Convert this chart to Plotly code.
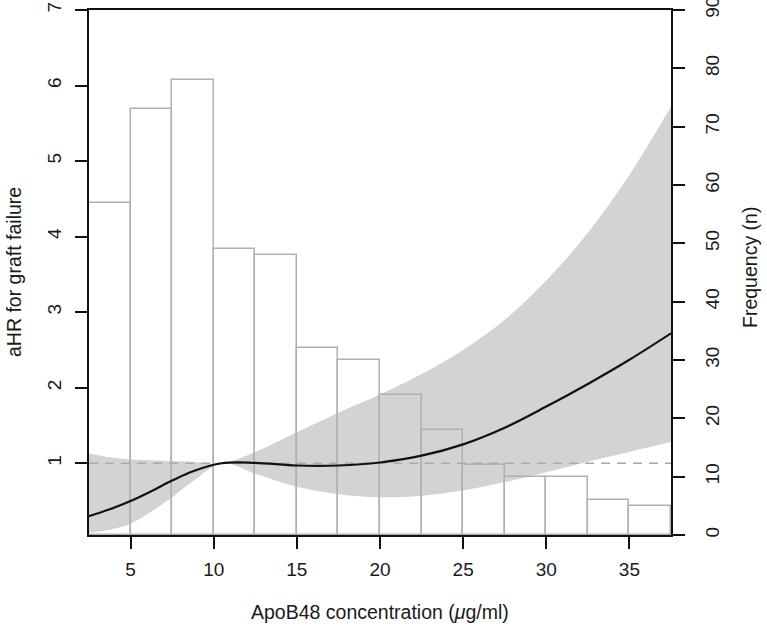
import plotly.graph_objects as go

# ---- data ----
apob_x = [2.5, 3.75, 5, 6.25, 7.5, 8.75, 10.5, 12.5, 15, 17.5, 20,
          22.5, 25, 27.5, 30, 32.5, 35, 37.5]
ahr = [0.30, 0.39, 0.50, 0.63, 0.77, 0.895, 1.00, 1.005, 0.97, 0.97, 1.01,
       1.10, 1.25, 1.47, 1.75, 2.05, 2.37, 2.72]
ahr_upper = [1.13, 1.08, 1.05, 1.04, 1.03, 1.02, 1.00, 1.15, 1.41, 1.67, 1.91,
             2.18, 2.50, 2.90, 3.42, 4.05, 4.82, 5.72]
ahr_lower = [0.08, 0.12, 0.20, 0.36, 0.55, 0.76, 1.00, 0.86, 0.69, 0.59, 0.55,
             0.57, 0.64, 0.75, 0.88, 1.02, 1.15, 1.28]

bin_width = 2.5
bin_left = [2.5, 5, 7.5, 10, 12.5, 15, 17.5, 20, 22.5, 25, 27.5, 30, 32.5, 35]
counts = [57, 73, 78, 49, 48, 32, 30, 24, 18, 12, 10, 10, 6, 5]

ref_hr = 1
x_range = [2.5, 37.5]
x_ticks = [5, 10, 15, 20, 25, 30, 35]
hr_range = [0.05, 7]
hr_ticks = [1, 2, 3, 4, 5, 6, 7]
freq_range = [0, 90]
freq_ticks = [0, 10, 20, 30, 40, 50, 60, 70, 80, 90]

FONT = "Liberation Sans, Arial, Helvetica, sans-serif"
TXT = "#1a1a1a"
FS_TICK = 19
FS_TITLE = 19.5

fig = go.Figure()

# confidence band (left scale)
fig.add_trace(go.Scatter(x=apob_x, y=ahr_lower, mode="lines",
                         line=dict(width=0, shape="spline", color="#d3d3d3"),
                         yaxis="y", showlegend=False, hoverinfo="skip"))
fig.add_trace(go.Scatter(x=apob_x, y=ahr_upper, mode="lines", fill="tonexty",
                         fillcolor="#d3d3d3",
                         line=dict(width=0, shape="spline", color="#d3d3d3"),
                         yaxis="y", showlegend=False, hoverinfo="skip"))

# histogram (right scale)
bin_centers = [b + bin_width / 2 for b in bin_left]
fig.add_trace(go.Bar(x=bin_centers, y=counts, width=bin_width,
                     marker=dict(color="rgba(0,0,0,0)",
                                 line=dict(color="#b0b0b0", width=1.5)),
                     yaxis="y2", showlegend=False))

# reference line and fitted curve (left scale, drawn on top)
fig.add_trace(go.Scatter(x=x_range, y=[ref_hr, ref_hr], mode="lines",
                         line=dict(color="#aaaaaa", width=1.6, dash="9px,7px"),
                         yaxis="y3", showlegend=False))
fig.add_trace(go.Scatter(x=apob_x, y=ahr, mode="lines",
                         line=dict(color="#111111", width=2.2, shape="spline"),
                         yaxis="y3", showlegend=False))

axis_common = dict(showline=True, linecolor="#111111", linewidth=1.5,
                   ticks="outside", ticklen=12, tickwidth=1.5, tickcolor="#111111",
                   showgrid=False, zeroline=False, automargin=False,
                   ticklabeloverflow="allow",
                   tickfont=dict(family=FONT, size=FS_TICK, color=TXT))

fig.update_layout(
    width=767, height=631,
    margin=dict(l=89, r=96, t=10, b=96, autoexpand=False),
    paper_bgcolor="white", plot_bgcolor="white",
    bargap=0,
    xaxis=dict(range=x_range, tickvals=x_ticks, mirror=True,
               ticklabelstandoff=4, **axis_common),
    yaxis=dict(range=hr_range, tickvals=hr_ticks, side="left", tickangle=-90,
               ticklabelstandoff=7, **axis_common),
    yaxis2=dict(range=freq_range, tickvals=freq_ticks, side="right",
                overlaying="y", tickangle=-90, ticklabelstandoff=11, **axis_common),
    yaxis3=dict(range=hr_range, overlaying="y", visible=False),
    annotations=[
        dict(text="ApoB48 concentration (<i>μ</i>g/ml)", xref="paper", yref="paper",
             x=0.5, y=(535 - 612) / 525, xanchor="center", yanchor="middle",
             showarrow=False, font=dict(family=FONT, size=FS_TITLE, color=TXT)),
        dict(text="aHR for graft failure", xref="paper", yref="paper",
             x=(14 - 89) / 582, y=(535 - 272) / 525, xanchor="center", yanchor="middle",
             textangle=-90, showarrow=False, font=dict(family=FONT, size=FS_TITLE, color=TXT)),
        dict(text="Frequency (n)", xref="paper", yref="paper",
             x=(750 - 89) / 582, y=(535 - 268) / 525, xanchor="center", yanchor="middle",
             textangle=-90, showarrow=False, font=dict(family=FONT, size=FS_TITLE, color=TXT)),
    ],
)

fig.write_html("out.html", config={"displayModeBar": False},
               post_script="document.body.style.margin='0';document.body.style.padding='0';")
